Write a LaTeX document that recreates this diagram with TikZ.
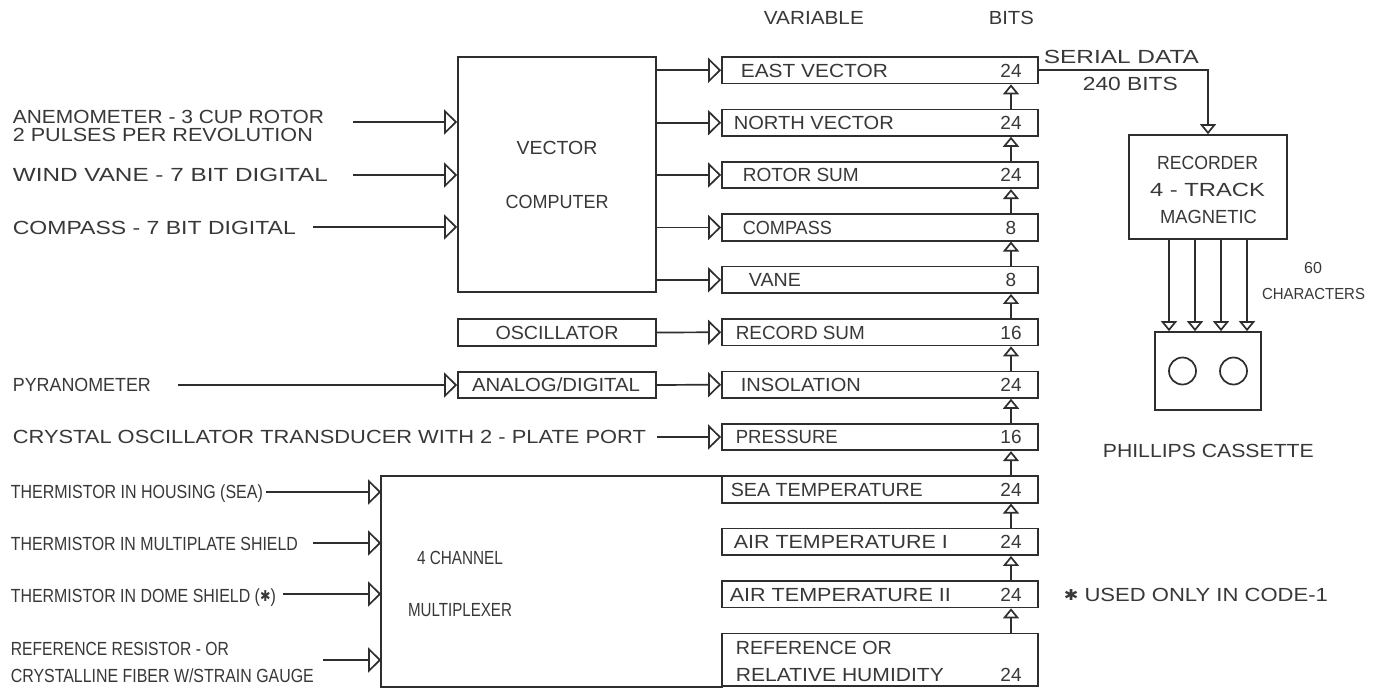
\documentclass[tikz,border=0pt]{standalone}
\usepackage{fontspec}
\setmainfont{Liberation Sans}
\newfontfamily\djv{DejaVu Sans}
\usepackage{graphicx}
\usetikzlibrary{arrows.meta}
\definecolor{ink}{HTML}{2E2E2E}
\definecolor{txt}{HTML}{383838}
\newcommand\fw[2]{\resizebox{#1pt}{\height}{#2}}
\newcommand\myast{\raisebox{0.05em}{\djv\fontsize{15}{18}\selectfont ✱}}
\begin{document}
\begin{tikzpicture}[x=1pt,y=-1pt,line width=1.7pt,draw=ink,
  lbl/.style={inner sep=0pt,text=txt,font=\fontsize{19}{22}\selectfont,text height=13.6pt,text depth=0pt},
  small/.style={inner sep=0pt,text=txt,font=\fontsize{16}{19}\selectfont,text height=11.5pt,text depth=0pt},
  reg/.style={draw=ink,inner sep=0pt,minimum width=316pt,minimum height=26.5pt},
  blk/.style={draw=ink,inner sep=0pt},
  inarr/.style={-{Triangle[open,length=13pt,width=25pt]}},
  uparr/.style={-{Triangle[open,length=10pt,width=16pt]}},
  downarr/.style={-{Triangle[open,length=10pt,width=16pt]}}]
\fill[white] (0,0) rectangle (1384,688);
\useasboundingbox (0,0) rectangle (1384,688);

% headers
\node[lbl,anchor=west] (hvar) at (763,17.5) {\fw{100}{VARIABLE}};
\node[lbl,anchor=west] (hbits) at (988,17.5) {\fw{45}{BITS}};

% registers
\foreach \i/\t/\lx/\lw/\b in {1/EAST VECTOR/740/147/24, 2/NORTH VECTOR/733/160/24, 3/ROTOR SUM/742/116/24, 4/COMPASS/742/89/8, 5/VANE/748/52/8, 6/RECORD SUM/735/129/16, 7/INSOLATION/740/120/24, 8/PRESSURE/735/102/16, 9/SEA TEMPERATURE/730/192/24, 10/AIR TEMPERATURE I/733/214/24, 11/AIR TEMPERATURE II/729/221/24}
{
  \pgfmathsetmacro\yc{57+52.4*(\i-1)+13.25}
  \node[reg] (r\i) at (880,\yc) {};
  \node[lbl,anchor=west] (l\i) at (\lx,\yc) {\fw{\lw}{\t}};
  \node[lbl] (b\i) at (1011,\yc) {\b};
}
\node[reg,minimum height=52.6pt] (r12) at (880,659.7) {};
\node[lbl,anchor=west] (l12a) at (735,648) {\fw{156}{REFERENCE OR}};
\node[lbl,anchor=west] (l12b) at (735,675) {\fw{208}{RELATIVE HUMIDITY}};
\node[lbl] (b12) at (1011,675) {24};

\foreach \i in {1,...,11}{
  \pgfmathtruncatemacro\j{\i+1}
  \draw[uparr] (r\j.north -| b\i) -- (r\i.south -| b\i);
}

% vector computer
\node[blk,minimum width=198pt,minimum height=235pt] (vc) at (557,174.5) {};
\node[lbl] (vc1) at (557,148) {\fw{81}{VECTOR}};
\node[lbl] (vc2) at (557,202) {\fw{103}{COMPUTER}};
\foreach \i in {1,...,5}{
  \draw[inarr] (vc.east |- r\i.west) -- (r\i.west);
}

% oscillator, A/D
\node[blk,minimum width=198pt,minimum height=27pt] (osc) at (557,332.5) {};
\node[lbl] (osct) at (557,332.5) {\fw{123}{OSCILLATOR}};
\node[blk,minimum width=198pt,minimum height=26pt] (ad) at (557,385) {};
\node[lbl] (adt) at (556,385) {\fw{168}{ANALOG/DIGITAL}};
\draw[inarr] (osc.east) -- (r6.west);
\draw[inarr] (ad.east) -- (r7.west);

% multiplexer
\node[inner sep=0pt,minimum width=340pt,minimum height=209pt] (mux) at (552,581.5) {};
\draw (mux.north east) -- (mux.north west) -- (mux.south west) -- (mux.south east);
\node[lbl] (mx1) at (460,558) {\fw{86}{4 CHANNEL}};
\node[lbl] (mx2) at (460,610) {\fw{104}{MULTIPLEXER}};

% left labels
\node[lbl,anchor=west] (a1) at (12,117) {\fw{311}{ANEMOMETER - 3 CUP ROTOR}};
\node[lbl,anchor=west] (a2) at (12,135) {\fw{300}{2 PULSES PER REVOLUTION}};
\node[lbl,anchor=west] (wv) at (12,174.5) {\fw{315}{WIND VANE - 7 BIT DIGITAL}};
\node[lbl,anchor=west] (cp) at (12,227.5) {\fw{283}{COMPASS - 7 BIT DIGITAL}};
\node[lbl,anchor=west] (py) at (12,385) {\fw{138}{PYRANOMETER}};
\node[lbl,anchor=west] (cr) at (12,437) {\fw{633}{CRYSTAL OSCILLATOR TRANSDUCER WITH 2 - PLATE PORT}};
\node[lbl,anchor=west] (th1) at (10,492) {\fw{252}{THERMISTOR IN HOUSING (SEA)}};
\node[lbl,anchor=west] (th2) at (10,544) {\fw{287}{THERMISTOR IN MULTIPLATE SHIELD}};
\node[lbl,anchor=west] (th3) at (10,596) {\fw{265}{THERMISTOR IN DOME SHIELD (\myast)}};
\node[lbl,anchor=west] (rr1) at (10,649) {\fw{218}{REFERENCE RESISTOR - OR}};
\node[lbl,anchor=west] (rr2) at (10,676) {\fw{303}{CRYSTALLINE FIBER W/STRAIN GAUGE}};

% input connectors
\coordinate (s1) at (353,122);
\coordinate (s2) at (353,175);
\coordinate (s3) at (313,227);
\coordinate (sp) at (178,385);
\coordinate (s8) at (657,437);
\coordinate (m1) at (266,492);
\coordinate (m2) at (313,543);
\coordinate (m3) at (283,594);
\coordinate (m4) at (323,660);
\draw[inarr] (s1) -- (s1 -| vc.west);
\draw[inarr] (s2) -- (s2 -| vc.west);
\draw[inarr] (s3) -- (s3 -| vc.west);
\draw[inarr] (sp) -- (ad.west);
\draw[inarr] (s8) -- (r8.west);
\foreach \m in {m1,m2,m3,m4}{
  \draw[inarr] (\m) -- (\m -| mux.west);
}

% recorder and cassette
\node[blk,minimum width=158pt,minimum height=104pt] (rec) at (1208,187) {};
\node[lbl] (rc1) at (1207.5,163) {\fw{101}{RECORDER}};
\node[lbl] (rc2) at (1207.5,190) {\fw{115}{4 - TRACK}};
\node[lbl] (rc3) at (1208.5,217) {\fw{97}{MAGNETIC}};
\node[blk,minimum width=106pt,minimum height=78pt] (cas) at (1208,371) {};
\node[circle,draw=ink,inner sep=0pt,minimum size=27pt] (reel1) at ([xshift=-25.5pt]cas.center) {};
\node[circle,draw=ink,inner sep=0pt,minimum size=27pt] (reel2) at ([xshift=25.5pt]cas.center) {};
\node[lbl,anchor=west] (pc) at (1102,451) {\fw{211}{PHILLIPS CASSETTE}};

\draw[downarr] (r1.east) -- (r1.east -| rec.north) -- (rec.north);
\node[lbl,anchor=west] (sd1) at (1043,57) {\fw{155}{SERIAL DATA}};
\node[lbl,anchor=west] (sd2) at (1082,84) {\fw{95}{240 BITS}};

\foreach \dx in {-39,-13,13,39}{
  \draw[downarr] ([xshift=\dx pt]rec.south) -- ([xshift=\dx pt]cas.north);
}
\node[small] (n60) at (1313,268) {60};
\node[small] (nch) at (1313.5,294) {\fw{103}{CHARACTERS}};

\node[lbl,anchor=west] (note) at (1063,595) {\fw{264}{\myast\ USED ONLY IN CODE-1}};
\end{tikzpicture}
\end{document}
